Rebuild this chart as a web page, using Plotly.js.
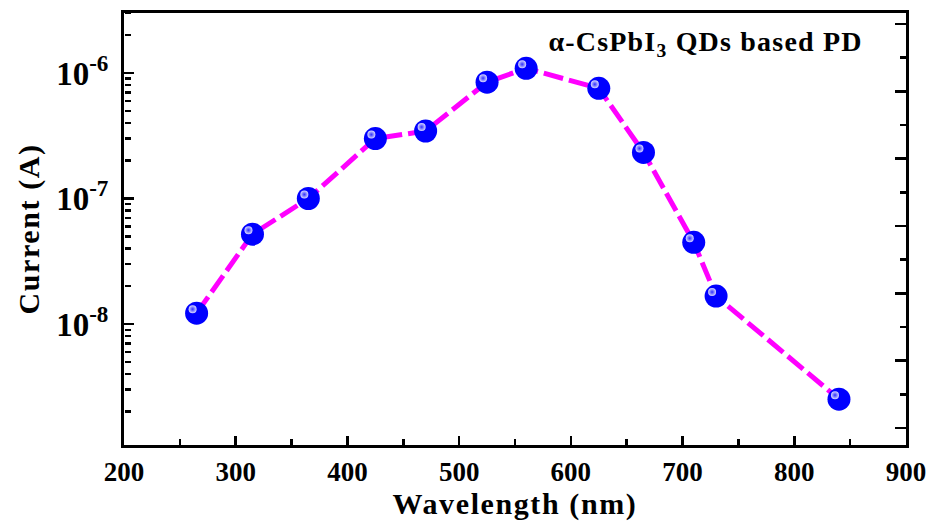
<!DOCTYPE html>
<html>
<head>
<meta charset="utf-8">
<script src="https://cdn.plot.ly/plotly-3.0.1.min.js"></script>
<style>
  html, body { margin: 0; padding: 0; background: #fff; }
  #chart { width: 936px; height: 525px; }
  #chart .xtitle, #chart .ytitle { letter-spacing: 1.6px; }
  #chart .annotation-text { letter-spacing: 1.2px; }
</style>
</head>
<body>
<div id="chart"></div>
<script>
// Data
const wavelength = [265, 315, 365, 425, 470, 525, 560, 625, 665, 710, 730, 840];
const current = [1.22e-8, 5.2e-8, 1.0e-7, 3.0e-7, 3.45e-7, 8.45e-7, 1.09e-6, 7.55e-7, 2.33e-7, 4.48e-8, 1.67e-8, 2.52e-9];

const xTickVals = [200, 300, 400, 500, 600, 700, 800, 900];
const xTickText = ['200', '300', '400', '500', '600', '700', '800', '900'];
const yTickVals = [1e-8, 1e-7, 1e-6];
const yTickText = ['10<sup>-8</sup>', '10<sup>-7</sup>', '10<sup>-6</sup>'];

const xTitle = 'Wavelength (nm)';
const yTitle = 'Current (A)';
const label = 'α-CsPbI<sub>3</sub> QDs based PD';

// minor log ticks (2..9 in each decade), as exponents for a linear tick-only axis
const yMinorExp = [];
for (let e = -9; e <= -6; e++) {
  for (let m = 2; m <= 9; m++) yMinorExp.push(e + Math.log10(m));
}

const FONT = 'Liberation Serif, Times New Roman, serif';
const xRange = [200, 900];
const yRange = [-8.964, -5.522];
// highlight offset (a few pixels up-left)
const dxData = 4 * (xRange[1] - xRange[0]) / 782;
const dyLog = 4 * (yRange[1] - yRange[0]) / 432;

const traces = [
  {
    x: wavelength, y: current, type: 'scatter', mode: 'lines+markers',
    line: { color: '#ff00ff', width: 5, dash: '20px,6px' },
    marker: { symbol: 'circle', size: 23, color: '#0000ff', line: { width: 0 } },
    hoverinfo: 'x+y', showlegend: false
  },
  {
    x: wavelength, y: current, type: 'scatter', mode: 'markers',
    xaxis: 'x3', yaxis: 'y3',
    marker: { symbol: 'circle', size: 8, color: '#d8d8ff',
      gradient: { type: 'radial', color: '#3030ff' }, line: { width: 0 } },
    hoverinfo: 'skip', showlegend: false
  },
  // empty traces that activate the tick-only axes
  { x: [null], y: [null], yaxis: 'y2', type: 'scatter', mode: 'markers', showlegend: false, hoverinfo: 'skip' },
  { x: [null], y: [null], yaxis: 'y4', type: 'scatter', mode: 'markers', showlegend: false, hoverinfo: 'skip' }
];

const layout = {
  width: 936, height: 525,
  margin: { l: 124, r: 30, t: 13, b: 80 },
  paper_bgcolor: '#fff', plot_bgcolor: '#fff',
  font: { family: FONT, color: '#000' },
  xaxis: {
    range: xRange, showgrid: false, zeroline: false,
    showline: true, linewidth: 3, linecolor: '#000', mirror: true,
    tickmode: 'array', tickvals: xTickVals, ticktext: xTickText,
    ticks: 'inside', ticklen: 9, tickwidth: 2.5, tickcolor: '#000',
    minor: { dtick: 50, tick0: 200, ticks: 'inside', ticklen: 6, tickwidth: 2.5, tickcolor: '#000' },
    tickfont: { family: FONT, size: 27, weight: 'bold' },
    ticklabelstandoff: 1,
    title: { text: '<b>' + xTitle + '</b>', font: { family: FONT, size: 30 }, standoff: 0 }
  },
  yaxis: {
    type: 'log', range: yRange, showgrid: false, zeroline: false,
    showline: true, linewidth: 3, linecolor: '#000', mirror: true,
    tickmode: 'array', tickvals: yTickVals, ticktext: yTickText,
    ticks: 'inside', ticklen: 10, tickwidth: 2.5, tickcolor: '#000',
    tickfont: { family: FONT, size: 33, weight: 'bold' },
    ticklabelstandoff: 6,
    title: { text: '<b>' + yTitle + '</b>', font: { family: FONT, size: 30 }, standoff: 8 }
  },
  yaxis4: {
    overlaying: 'y', side: 'right', anchor: 'free', position: 0, type: 'linear', range: yRange,
    showgrid: false, zeroline: false, showline: false, showticklabels: false,
    tickmode: 'array', tickvals: yMinorExp,
    ticks: 'outside', ticklen: 6, tickwidth: 2.5, tickcolor: '#000'
  },
  yaxis2: {
    overlaying: 'y', side: 'right', range: [-0.2525, 6.163],
    showgrid: false, zeroline: false, showticklabels: false, showline: false,
    tickmode: 'linear', tick0: 0, dtick: 1,
    ticks: 'inside', ticklen: 11, tickwidth: 2.5, tickcolor: '#000',
    minor: { dtick: 0.5, ticks: 'inside', ticklen: 6, tickwidth: 2.5, tickcolor: '#000' }
  },
  xaxis3: {
    overlaying: 'x', range: [xRange[0] + dxData, xRange[1] + dxData], visible: false
  },
  yaxis3: {
    overlaying: 'y', type: 'log', range: [yRange[0] - dyLog, yRange[1] - dyLog], visible: false
  },
  annotations: [{
    text: '<b>' + label + '</b>', xref: 'paper', yref: 'paper',
    x: 0.931, y: 0.93, xanchor: 'right', yanchor: 'middle', showarrow: false,
    font: { family: FONT, size: 28, color: '#000' }
  }]
};

Plotly.newPlot('chart', traces, layout, { displayModeBar: false, staticPlot: true });
</script>
</body>
</html>
